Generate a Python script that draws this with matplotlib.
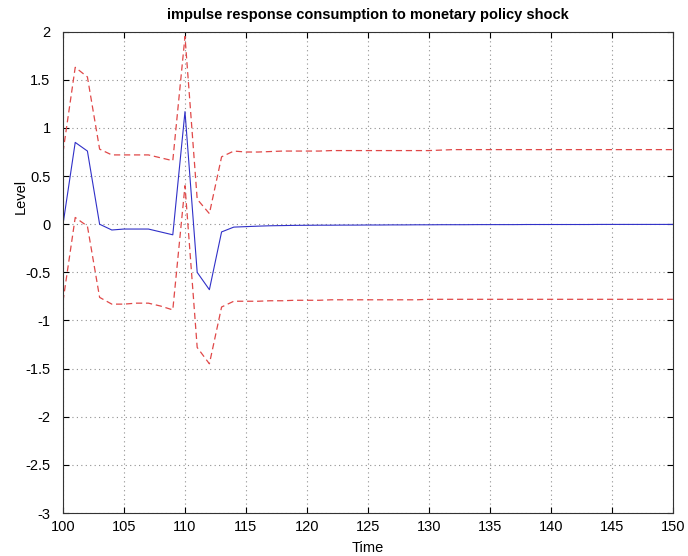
import matplotlib
matplotlib.use("Agg")
import matplotlib.pyplot as plt
import numpy as np

plt.rcParams['font.family'] = ['Liberation Sans', 'DejaVu Sans']

# impulse response of consumption, periods 100..150
periods = np.arange(100, 151)

response = [0.0, 0.85, 0.76, 0.0, -0.06, -0.05, -0.05, -0.05, -0.08, -0.11,
            1.17, -0.50, -0.68, -0.08, -0.03, -0.025, -0.02, -0.016, -0.014, -0.012,
            -0.011, -0.010, -0.010, -0.009, -0.009, -0.008, -0.008, -0.007, -0.007, -0.006,
            -0.006, -0.005, -0.005, -0.005, -0.004, -0.004, -0.004, -0.004, -0.003, -0.003,
            -0.003, -0.003, -0.003, -0.003, -0.002, -0.002, -0.002, -0.002, -0.002, -0.002,
            -0.002]

upper = [0.75, 1.63, 1.53, 0.78, 0.72, 0.72, 0.72, 0.72, 0.69, 0.66,
         1.95, 0.26, 0.11, 0.70, 0.76, 0.75, 0.75, 0.755, 0.76, 0.76,
         0.76, 0.76, 0.765, 0.765, 0.765, 0.765, 0.765, 0.765, 0.765, 0.765,
         0.765, 0.77, 0.775, 0.775, 0.775, 0.775, 0.775, 0.775, 0.775, 0.775,
         0.775, 0.775, 0.775, 0.775, 0.775, 0.775, 0.775, 0.775, 0.775, 0.775,
         0.775]

lower = [-0.80, 0.07, -0.02, -0.76, -0.83, -0.83, -0.82, -0.82, -0.85, -0.89,
         0.40, -1.28, -1.45, -0.86, -0.80, -0.80, -0.80, -0.795, -0.795, -0.79,
         -0.79, -0.79, -0.785, -0.785, -0.785, -0.785, -0.785, -0.785, -0.785, -0.785,
         -0.78, -0.78, -0.78, -0.78, -0.78, -0.78, -0.78, -0.78, -0.78, -0.78,
         -0.78, -0.78, -0.78, -0.78, -0.78, -0.78, -0.78, -0.78, -0.78, -0.78,
         -0.78]

fig = plt.figure(figsize=(6.88, 5.56), dpi=100)
ax = fig.add_axes([0.0916, 0.0773, 0.8864, 0.8657])

ax.plot(periods, upper, '--', color='#e04848', linewidth=0.9, dashes=(5, 3))
ax.plot(periods, lower, '--', color='#e04848', linewidth=0.9, dashes=(5, 3))
ax.plot(periods, response, '-', color='#3030c8', linewidth=0.8)

ax.set_xlim(100, 150)
ax.set_ylim(-3, 2)
ax.set_xticks(np.arange(100, 151, 5))
ax.set_yticks(np.arange(-3, 2.01, 0.5))
ax.set_yticklabels(['-3', '-2.5', '-2', '-1.5', '-1', '-0.5', '0', '0.5', '1', '1.5', '2'])
ax.grid(True, linestyle=(0, (1, 3)), color='#909090', linewidth=0.8)
ax.tick_params(direction='in', length=4, labelsize=10.5, top=True, right=True)
ax.tick_params(axis='x', pad=5)
ax.tick_params(axis='y', pad=9)
for s in ax.spines.values():
    s.set_linewidth(0.8)
    s.set_color('#333333')

ax.set_xlabel('Time', fontsize=10.5, labelpad=5)
ax.set_ylabel('Level', fontsize=10.5)
ax.yaxis.set_label_coords(-0.058, 0.657)
ax.set_title('impulse response consumption to monetary policy shock', fontsize=10.5, fontweight='bold', pad=9)

fig.savefig('out.png', dpi=100)
